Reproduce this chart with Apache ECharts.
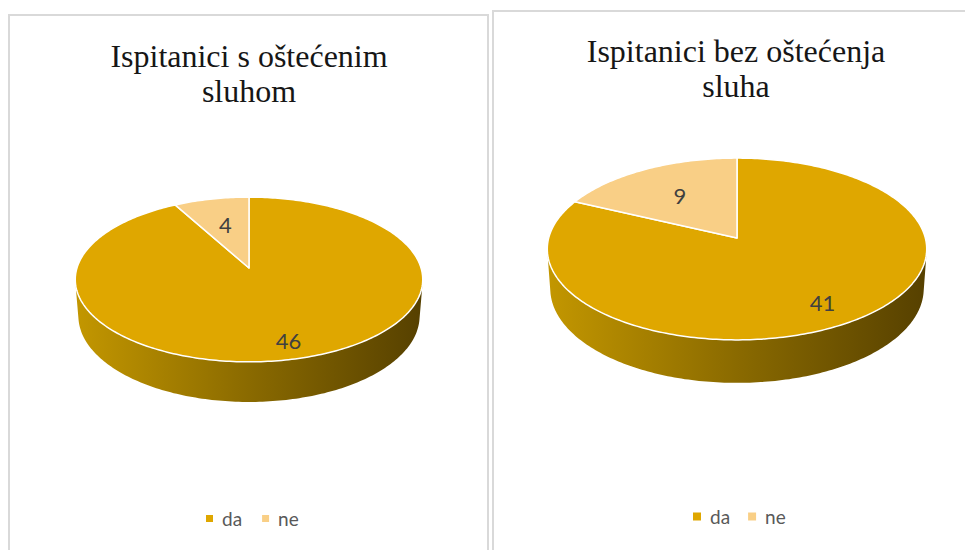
<!DOCTYPE html>
<html><head><meta charset="utf-8">
<script src="https://cdn.jsdelivr.net/npm/echarts@6/dist/echarts.min.js"></script>
<style>html,body{margin:0;padding:0;background:#fff}#c{width:965px;height:550px}</style>
</head><body><div id="c"></div>
<script>
// ---- data ----
const categories = ['da', 'ne'];
const impairedValues = [46, 4];
const hearingValues = [41, 9];
const chartTitles = ['Ispitanici s oštećenim\nsluhom', 'Ispitanici bez oštećenja\nsluha'];

// ---- styles ----
const sliceColors = ['#DFA700', '#F9CF86'];
const wallShades = [['#c29600', '#8a6a00', '#574100'], ['#d8b070', '#a8884f', '#7a6238']];

// 3D (perspective) pie geometry per panel
const pies = [
  {values: impairedValues, cx: 249, cy: 268, F: 1089, D: 6.33, alpha: 28, T: 0.243, labelR: [0.82, 0.6]},
  {values: hearingValues, cx: 737, cy: 238, F: 1371, D: 7.28, alpha: 28.4, T: 0.242, labelR: [0.78, 0.6]}
];

function project(p, X, Y, Z) {
  const a = p.alpha * Math.PI / 180, sa = Math.sin(a), ca = Math.cos(a);
  const depth = p.D - Y * sa - Z * ca;
  const up = Y * ca - Z * sa;
  return [p.cx + p.F * X / depth, p.cy - p.F * up / depth];
}
function rim(p, phi, Y, rho) {
  if (rho == null) rho = 1;
  return project(p, rho * Math.sin(phi), Y, -rho * Math.cos(phi));
}

// slice angle data built from the value arrays (clockwise from 12 o'clock)
const sliceData = categories.map(() => []);
const wallData = [];
pies.forEach((p, pi) => {
  const total = p.values.reduce((s, v) => s + v, 0);
  let acc = 0;
  p.values.forEach((v, ci) => {
    const s = acc / total * 2 * Math.PI, e = (acc + v) / total * 2 * Math.PI;
    sliceData[ci].push({name: categories[ci], value: [pi, s, e, v]});
    wallData.push({value: [pi, s, e, ci]});
    acc += v;
  });
});

function renderWall(params, api) {
  const p = pies[api.value(0)], s = api.value(1), e = api.value(2), ci = api.value(3);
  const a = p.alpha * Math.PI / 180;
  const phi0 = Math.acos(-1 / (p.D * Math.cos(a)));
  const lo = Math.max(s, phi0), hi = Math.min(e, 2 * Math.PI - phi0);
  if (hi <= lo) return {type: 'group', children: []};
  const n = Math.max(2, Math.ceil((hi - lo) / (Math.PI / 180)));
  const top = [], bot = [];
  for (let i = 0; i <= n; i++) {
    const phi = lo + (hi - lo) * i / n;
    top.push(rim(p, phi, 0));
    bot.push(rim(p, phi, -p.T));
  }
  const pts = top.concat(bot.reverse());
  const xl = rim(p, 2 * Math.PI - phi0, -p.T)[0], xr = rim(p, phi0, -p.T)[0];
  const sh = wallShades[ci];
  return {
    type: 'polygon', shape: {points: pts},
    style: {
      fill: {type: 'linear', x: xl, y: 0, x2: xr, y2: 0, global: true,
        colorStops: [{offset: 0, color: sh[0]}, {offset: 0.5, color: sh[1]}, {offset: 1, color: sh[2]}]},
      stroke: null
    }
  };
}

function renderTop(ci) {
  return function (params, api) {
    const p = pies[api.value(0)], s = api.value(1), e = api.value(2), v = api.value(3);
    const pts = [project(p, 0, 0, 0)];
    const n = Math.max(2, Math.ceil((e - s) / (Math.PI / 180)));
    for (let i = 0; i <= n; i++) pts.push(rim(p, s + (e - s) * i / n, 0));
    const lp = rim(p, (s + e) / 2, 0, p.labelR[ci]);
    return {type: 'group', children: [
      {type: 'polygon', shape: {points: pts},
       style: {fill: sliceColors[ci], stroke: '#ffffff', lineWidth: 1.5, lineJoin: 'round'}},
      {type: 'text', x: lp[0], y: lp[1], z2: 10,
       style: {text: String(v), fill: '#404040', fontSize: 22, fontFamily: 'Lato',
               align: 'center', verticalAlign: 'middle'}}
    ]};
  };
}

const chart = echarts.init(document.getElementById('c'), null, {renderer: 'svg'});
chart.setOption({
  backgroundColor: '#ffffff',
  animation: false,
  title: [
    {text: chartTitles[0], left: 249, top: 38, textAlign: 'center', padding: 0,
     textStyle: {fontFamily: 'Liberation Serif', fontSize: 32, fontWeight: 'normal', color: '#161616', lineHeight: 35}},
    {text: chartTitles[1], left: 736, top: 33, textAlign: 'center', padding: 0,
     textStyle: {fontFamily: 'Liberation Serif', fontSize: 32, fontWeight: 'normal', color: '#161616', lineHeight: 35}}
  ],
  legend: [
    {data: categories, left: 206, top: 509, padding: 0, icon: 'rect', itemWidth: 7, itemHeight: 7, itemGap: 20,
     textStyle: {fontFamily: 'Lato', fontSize: 19, color: '#595959', padding: [0, 0, 0, 4]}},
    {data: categories, left: 693, top: 507, padding: 0, icon: 'rect', itemWidth: 8, itemHeight: 8, itemGap: 18,
     textStyle: {fontFamily: 'Lato', fontSize: 19, color: '#595959', padding: [0, 0, 0, 4]}}
  ],
  graphic: [
    {type: 'rect', shape: {x: 9, y: 15, width: 479, height: 560}, style: {fill: null, stroke: '#d9d9d9', lineWidth: 2}, silent: true},
    {type: 'rect', shape: {x: 493, y: 11, width: 500, height: 560}, style: {fill: null, stroke: '#d9d9d9', lineWidth: 2}, silent: true}
  ],
  series: [
    {type: 'custom', name: 'wall', coordinateSystem: 'none', renderItem: renderWall, data: wallData, silent: true},
    {type: 'custom', name: categories[0], coordinateSystem: 'none', renderItem: renderTop(0),
     itemStyle: {color: sliceColors[0]}, data: sliceData[0]},
    {type: 'custom', name: categories[1], coordinateSystem: 'none', renderItem: renderTop(1),
     itemStyle: {color: sliceColors[1]}, data: sliceData[1]}
  ]
});
</script>
</body></html>
